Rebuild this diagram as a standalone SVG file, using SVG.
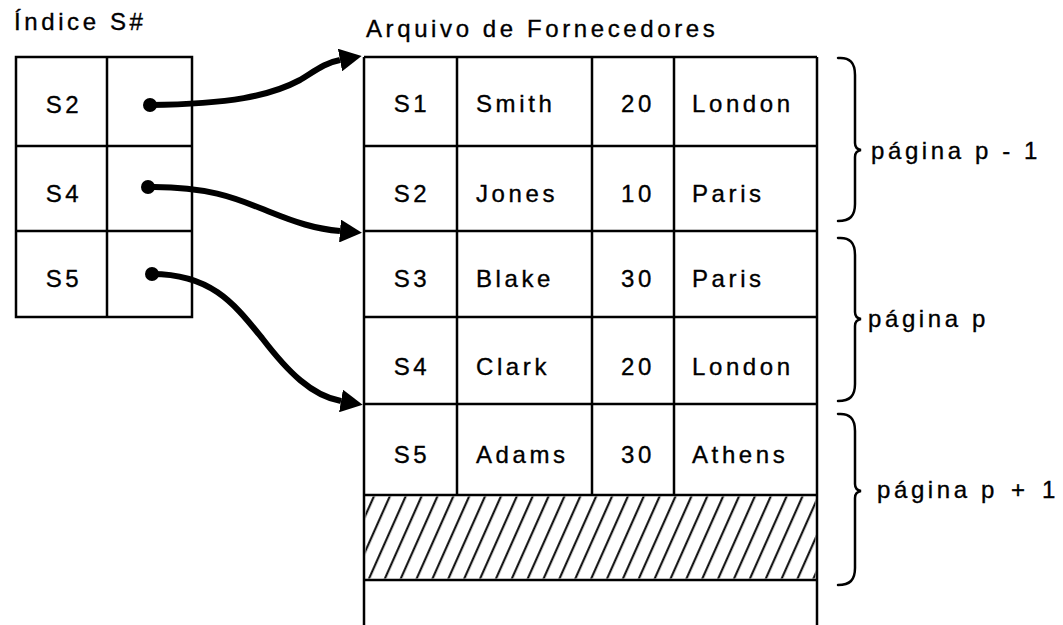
<svg xmlns="http://www.w3.org/2000/svg" width="1063" height="625" viewBox="0 0 1063 625">
  <style>
    .t { font-family: "Liberation Sans", Arial, sans-serif; font-size: 24px; letter-spacing: 3.6px; fill: #000; stroke: #000; stroke-width: 0.35; }
    .c { text-anchor: middle; }
    .r { text-anchor: end; }
    .grid { fill: none; stroke: #000; stroke-width: 2.5; }
    .brace { fill: none; stroke: #000; stroke-width: 2.5; stroke-linecap: round; }
    .ptr { fill: none; stroke: #000; stroke-width: 6; }
  </style>
  <defs>
    <marker id="head" markerUnits="userSpaceOnUse" viewBox="0 0 22 23" markerWidth="22" markerHeight="23" refX="0" refY="11.5" orient="auto">
      <path d="M0,0 L22,11.5 L0,23 z" fill="#000"/>
    </marker>
    <pattern id="hatch" patternUnits="userSpaceOnUse" width="14.5" height="20" patternTransform="rotate(24)">
      <line x1="7" y1="-2" x2="7" y2="22" stroke="#000" stroke-width="2"/>
    </pattern>
  </defs>
  <rect width="1063" height="625" fill="#fff"/>

  <!-- index on S# -->
  <g id="indice">
    <text class="t" x="14" y="30">Índice S#</text>
    <rect class="grid" x="16" y="57" width="176" height="260"/>
    <path class="grid" d="M107,57 V317 M16,146 H192 M16,231 H192"/>
    <text class="t c" x="64" y="113">S2</text>
    <text class="t c" x="64" y="202">S4</text>
    <text class="t c" x="64" y="287">S5</text>
  </g>

  <!-- suppliers file -->
  <g id="arquivo">
    <text class="t" x="366" y="37">Arquivo de Fornecedores</text>
    <path class="grid" d="M364,57 H817 M364,57 V625 M817,57 V625 M364,146 H817 M364,231 H817 M364,317 H817 M364,404 H817 M364,495 H817 M364,580 H817 M457,57 V495 M592,57 V495 M674,57 V495"/>
    <g id="s1">
      <text class="t c" x="412" y="112">S1</text>
      <text class="t" x="476" y="112">Smith</text>
      <text class="t r" x="655" y="112">20</text>
      <text class="t" x="692" y="112">London</text>
    </g>
    <g id="s2">
      <text class="t c" x="412" y="202">S2</text>
      <text class="t" x="476" y="202">Jones</text>
      <text class="t r" x="655" y="202">10</text>
      <text class="t" x="692" y="202">Paris</text>
    </g>
    <g id="s3">
      <text class="t c" x="412" y="287">S3</text>
      <text class="t" x="476" y="287">Blake</text>
      <text class="t r" x="655" y="287">30</text>
      <text class="t" x="692" y="287">Paris</text>
    </g>
    <g id="s4">
      <text class="t c" x="412" y="375">S4</text>
      <text class="t" x="476" y="375">Clark</text>
      <text class="t r" x="655" y="375">20</text>
      <text class="t" x="692" y="375">London</text>
    </g>
    <g id="s5">
      <text class="t c" x="412" y="463">S5</text>
      <text class="t" x="476" y="463">Adams</text>
      <text class="t r" x="655" y="463">30</text>
      <text class="t" x="692" y="463">Athens</text>
    </g>
    <!-- free space on the last page -->
    <rect id="livre" x="365.5" y="496.5" width="450" height="82" fill="url(#hatch)"/>
  </g>

  <!-- page braces -->
  <g id="pagina-p-1">
    <path class="brace" d="M838,58 C850,57 855,63 855,75 L855,143 Q855,149 861,150 Q855,151 855,157 L855,204 C855,216 850,221 838,221"/>
    <text class="t" x="871" y="159">página p - 1</text>
  </g>
  <g id="pagina-p">
    <path class="brace" d="M838,238 C850,237 855,243 855,255 L855,312 Q855,318 861,319 Q855,320 855,326 L855,384 C855,396 850,401 838,401"/>
    <text class="t" x="868" y="327">página p</text>
  </g>
  <g id="pagina-p+1">
    <path class="brace" d="M838,414 C850,413 855,419 855,431 L855,484 Q855,490 861,491 Q855,492 855,498 L855,568 C855,580 850,585 838,585"/>
    <text class="t" x="877" y="498">página p <tspan x="1011">+</tspan><tspan x="1042">1</tspan></text>
  </g>

  <!-- pointers from the index into the file -->
  <g id="connectors">
    <circle cx="150" cy="105" r="7"/>
    <circle cx="148" cy="187" r="7"/>
    <circle cx="152" cy="274" r="7"/>
    <path class="ptr" marker-end="url(#head)" d="M150,105 C230,104 270,96 300,80 C315,71 324,63 340,60"/>
    <path class="ptr" marker-end="url(#head)" d="M148,187 C210,186 240,200 270,212 C295,222 315,229 340,231"/>
    <path class="ptr" marker-end="url(#head)" d="M152,274 C212,274 235,305 262,338 C288,372 312,396 341,401"/>
  </g>
</svg>
